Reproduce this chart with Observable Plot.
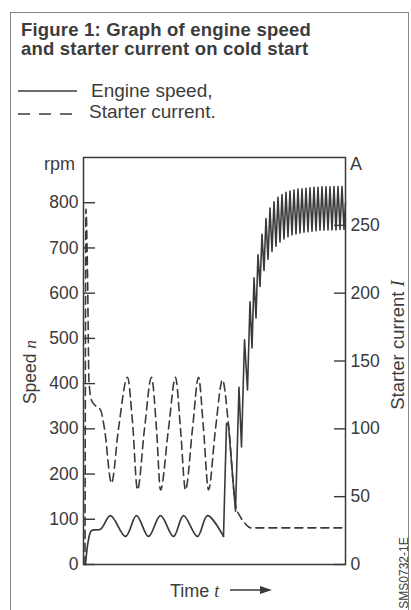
<!DOCTYPE html>
<html><head><meta charset="utf-8">
<script src="https://cdn.jsdelivr.net/npm/d3@7"></script>
<script src="https://cdn.jsdelivr.net/npm/@observablehq/plot@0.6"></script>
<style>
html,body{margin:0;padding:0;background:#fff;}
#page{position:relative;width:411px;height:610px;overflow:hidden;font-family:"Liberation Sans",Arial,Helvetica,sans-serif;color:#3c3c3c;}
.abs{position:absolute;white-space:nowrap;line-height:1;}
.rot{position:absolute;white-space:nowrap;line-height:1;transform:translate(-50%,-50%) rotate(-90deg);}
#border{position:absolute;left:10px;top:12px;width:399px;height:640px;border:1.5px solid #858585;box-sizing:border-box;}
.layer{position:absolute;left:0;top:0;}
.ser{font-family:"Liberation Serif","Times New Roman",serif;font-style:italic;}
</style></head><body>
<div id="page">
  <div id="border"></div>
  <div class="abs" style="left:21px;top:21.3px;font-weight:bold;font-size:18.5px;letter-spacing:0.2px;">Figure 1: Graph of engine speed</div>
  <div class="abs" style="left:21px;top:40.3px;font-weight:bold;font-size:18.5px;letter-spacing:0.2px;">and starter current on cold start</div>
  <svg class="layer" width="411" height="130" style="position:absolute;left:0;top:0;">
    <line x1="18" x2="77" y1="91" y2="91" stroke="#3a3a3a" stroke-width="1.6"/>
    <line x1="18" x2="77" y1="114" y2="114" stroke="#3a3a3a" stroke-width="1.6" stroke-dasharray="12,9"/>
  </svg>
  <div class="abs" style="left:91px;top:80.9px;font-size:19px;">Engine speed,</div>
  <div class="abs" style="left:89px;top:101.9px;font-size:19px;">Starter current.</div>
  <div class="abs" style="right:336px;top:154.8px;font-size:18px;">rpm</div>
  <div class="abs" style="left:350px;top:154.8px;font-size:18px;">A</div>
  <div class="rot" style="left:30.5px;top:371.5px;font-size:17.5px;">Speed <span class="ser">n</span></div>
  <div class="rot" style="left:397.5px;top:345px;font-size:18.5px;">Starter current <span class="ser">I</span></div>
  <div class="rot" style="left:403.5px;top:573px;font-size:12px;">SMS0732-1E</div>
  <div class="abs" style="left:170px;top:581.8px;font-size:18px;">Time <span class="ser">t</span></div>
  <svg width="60" height="14" style="position:absolute;left:228px;top:583px;">
    <line x1="2" x2="34" y1="7" y2="7" stroke="#3a3a3a" stroke-width="1.5"/>
    <polygon points="32,3 44,7 32,11" fill="#3a3a3a"/>
  </svg>
  <div id="chart"></div>
</div>
<script>
// Engine speed (rpm) over time (arbitrary units)
const speedTime = [2,5,8,17,27,42,53,65,77,90,100,114,124,140,143,145,152,155.5,158,161,164,166.5,168.5,170.5,172.5,174.5,176.5,178.5,180.5,182.5,184.5,186.5,188.5,190.5,192.5,194.5,196.5,198.5,200.5,202.5,204.5,206.5,208.5,210.5,212.5,214.5,216.5,218.5,220.5,222.5,224.5,226.5,228.5,230.5,232.5,234.5,236.5,238.5,240.5,242.5,244.5,246.5,248.5,250.5,252.5,254.5,256.5,258.5,260.5,262];
const speedRpm = [0,55,75,78,108,62,108,62,108,62,108,62,108,62,312,308,118,392,260,497,386,581,479,634,545,685,615,730,650,765,675,788,692,802,704,812,713,818,720,823,725,826,729,828,731,830,733,831,735,832,736,833,737,834,738,834,739,835,739,835,740,835,740,836,740,836,741,836,741,800];
// time at which cranking ends and the engine fires
const firingTime = 140;

// Starter current (A) over time
const currentTime = [1.5,2.5,4,5.5,8,12,17,21,28,35,44,49,54,61,68,73,77,85,92,97,102,109,115,120,125,132,139,145,152,157,162,167,262];
const currentAmp = [0,262,215,135,121,117,114,100,60,100,138,105,55,100,138,100,55,100,138,100,55,100,138,100,55,100,136,103,44,35,30,27,27];

const speedTicks = [0,100,200,300,400,500,600,700,800];
const currentTicks = [0,50,100,150,200,250];

const speed = speedTime.map((t,i)=>({t, v: speedRpm[i]}));
const current = currentTime.map((t,i)=>({t, v: currentAmp[i]}));

const ink = "#3a3a3a";
const common = {
  width:411, height:610,
  marginLeft:83, marginRight:66, marginTop:157, marginBottom:46,
  x:{domain:[0,262], axis:null},
  style:{fontFamily:'"Liberation Sans",Arial,sans-serif', background:"transparent", color:ink, overflow:"visible"}
};

const p1 = Plot.plot({
  ...common,
  y:{domain:[0,900]},
  marks:[
    Plot.axisY(speedTicks, {anchor:"left", tickSize:-12, tickPadding:17, fontSize:17.5, label:null, strokeWidth:1.4}),
    Plot.frame({stroke:ink, strokeWidth:1.5}),
    Plot.line(speed, {filter: d => d.t <= firingTime, x:"t", y:"v", stroke:ink, strokeWidth:1.7, curve:"catmull-rom"}),
    Plot.line(speed, {filter: d => d.t >= firingTime, x:"t", y:"v", stroke:ink, strokeWidth:1.6})
  ]
});
const p2 = Plot.plot({
  ...common,
  y:{domain:[0,300]},
  marks:[
    Plot.axisY(currentTicks, {anchor:"right", tickSize:-12, tickPadding:17, fontSize:17.5, label:null, strokeWidth:1.4}),
    Plot.line(current, {x:"t", y:"v", stroke:ink, strokeWidth:1.6, strokeDasharray:"8,5", curve:"monotone-x"})
  ]
});
p1.classList.add("layer"); p2.classList.add("layer");
p1.style.position = "absolute"; p2.style.position = "absolute";
const chart = document.getElementById("chart");
chart.appendChild(p1); chart.appendChild(p2);
</script>
</body></html>
